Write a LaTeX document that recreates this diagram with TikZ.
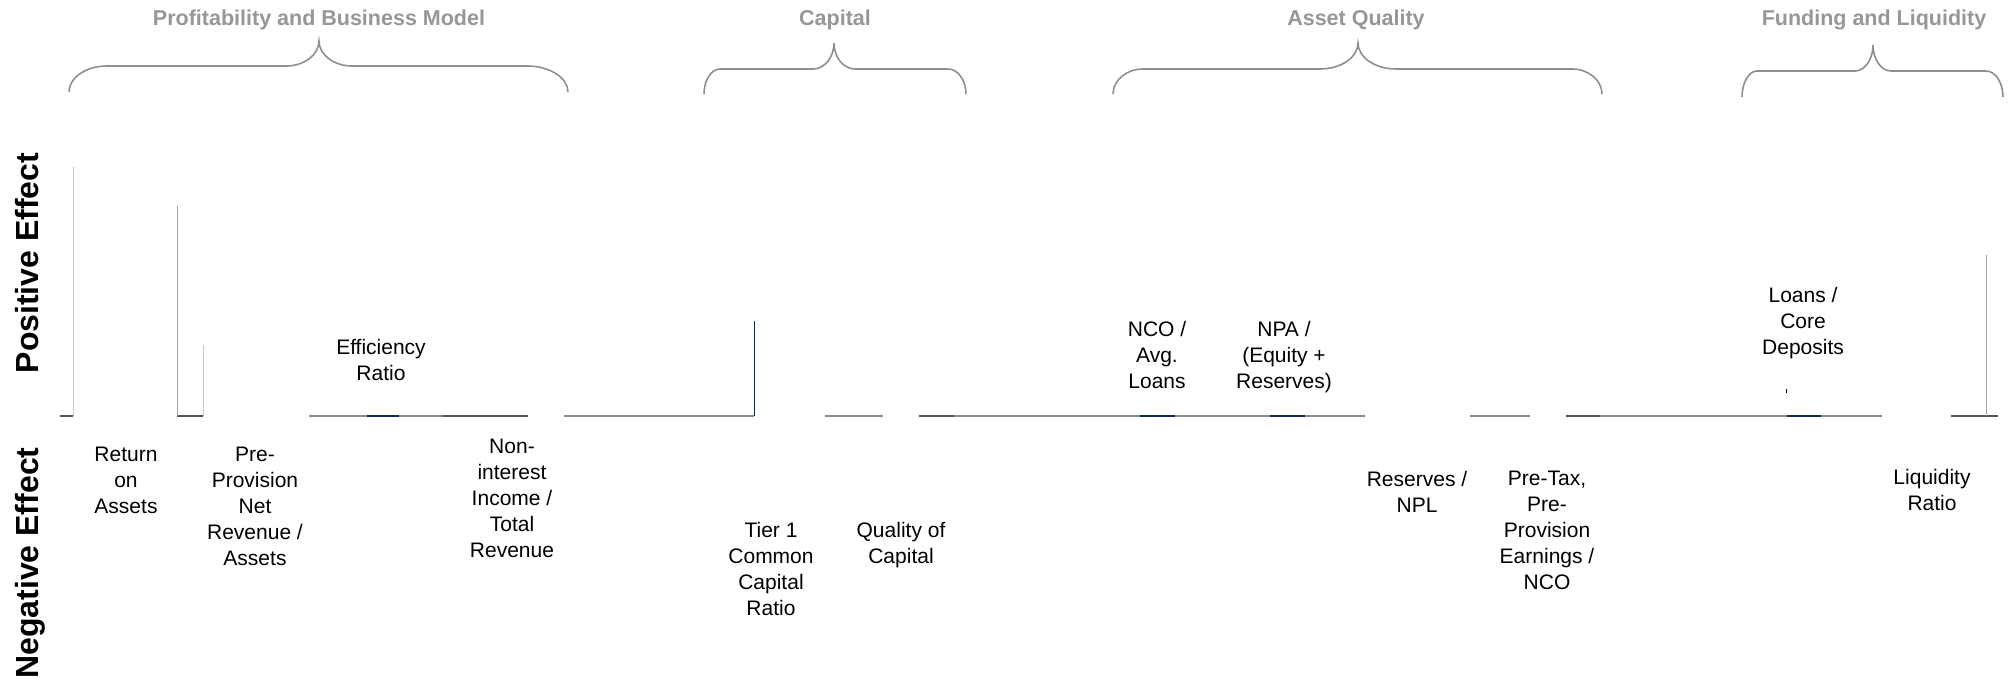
\documentclass[tikz,border=0pt]{standalone}
\usepackage{fontspec}
\setmainfont{Liberation Sans}
\definecolor{bracegray}{HTML}{8F8F8F}
\definecolor{titlegray}{HTML}{979797}
\definecolor{axisgray}{HTML}{8A8A8A}
\definecolor{axisdark}{HTML}{555555}
\definecolor{barnavy}{HTML}{13284D}
\definecolor{lightblue}{HTML}{B4CDE6}
\definecolor{vgray}{HTML}{A6A6A6}
\newcommand\drawcatbrace[9]{%
  \draw[bracestyle] (#1,#9) .. controls (#1,{#8+0.45*(#9-#8)}) and ({#1+0.45*#4},#8) .. ({#1+#4},#8)
    -- ({#2-#5},#8) .. controls ({#2-0.45*#5},#8) and (#2,{#8-0.45*(#8-#7)}) .. (#2,#7)
    .. controls (#2,{#8-0.45*(#8-#7)}) and ({#2+0.45*#5},#8) .. ({#2+#5},#8)
    -- ({#3-#6},#8) .. controls ({#3-0.45*#6},#8) and (#3,{#8+0.45*(#9-#8)}) .. (#3,#9);}
\begin{document}
\begin{tikzpicture}[x=1bp,y=-1bp,
  bracestyle/.style={draw=bracegray,line width=1.6bp},
  cattitle/.style={text=titlegray,font=\fontsize{21.5bp}{26bp}\selectfont\bfseries,anchor=base,inner sep=0},
  sidelabel/.style={font=\fontsize{32bp}{38bp}\selectfont\bfseries,rotate=90,anchor=base,inner sep=0},
  lbl/.style={font=\fontsize{21bp}{26bp}\selectfont,align=center,anchor=north,inner sep=0},
  axisseg/.style={draw=axisgray,line width=1.8bp},
  axisdk/.style={draw=axisdark,line width=1.8bp},
  navyseg/.style={draw=barnavy,line width=1.8bp},
  vline/.style={line width=1bp}]
\useasboundingbox (0,0) rectangle (2010,682);

% category titles
\node[cattitle] (tprof) at (319,26) {Profitability and Business Model};
\node[cattitle] (tcap)  at (835,26) {Capital};
\node[cattitle] (tasset) at (1356,26) {Asset Quality};
\node[cattitle] (tfund) at (1874,26) {Funding and Liquidity};

% braces
\drawcatbrace{69}{319}{568}{38}{33}{41}{41}{66}{92}
\drawcatbrace{704}{834}{966}{16}{21}{18}{43}{69}{94}
\drawcatbrace{1113}{1358}{1602}{30}{38}{30}{43}{69}{94}
\drawcatbrace{1742}{1873}{2003}{15}{18}{17}{45}{71}{97}

% side labels
\node[sidelabel] (pos) at (38,263) {Positive Effect};
\node[sidelabel] (neg) at (38,563) {Negative Effect};

% baseline segments
\draw[axisdk] (60,416) -- (73,416);
\draw[axisdk] (177,416) -- (203,416);
\draw[axisseg] (309,416) -- (443,416);
\draw[navyseg] (367,416) -- (399,416);
\draw[axisdk] (443,416) -- (528,416);
\draw[axisseg] (564,416) -- (754,416);
\draw[axisseg] (825,416) -- (883,416);
\draw[axisdk] (919,416) -- (954,416);
\draw[axisseg] (954,416) -- (1365,416);
\draw[navyseg] (1140,416) -- (1175,416);
\draw[navyseg] (1270,416) -- (1305,416);
\draw[axisseg] (1470,416) -- (1530,416);
\draw[axisdk] (1566,416) -- (1600,416);
\draw[axisseg] (1600,416) -- (1882,416);
\draw[navyseg] (1787,416) -- (1821,416);
\draw[axisdk] (1951,416) -- (1998,416);

% vertical bars
\draw[vline,lightblue] (73,167) -- (73,416);
\draw[vline,vgray] (177,206) -- (177,416);
\draw[vline,lightblue] (203,345) -- (203,416);
\draw[vline,barnavy] (754,321) -- (754,416);
\draw[vline,vgray] (1986,255) -- (1986,416);
\draw[vline,black] (1786,389) -- (1786,393);

% metric labels
\node[lbl] (roa) at (126,447) {Return\\on\\Assets};
\node[lbl] (ppnr) at (255,447) {Pre-\\Provision\\Net\\Revenue /\\Assets};
\node[lbl] (eff) at (381,339) {Efficiency\\Ratio};
\node[lbl] (nii) at (512,439) {Non-\\interest\\Income /\\Total\\Revenue};
\node[lbl] (tier) at (771,522) {Tier 1\\Common\\Capital\\Ratio};
\node[lbl] (qoc) at (901,522) {Quality of\\Capital};
\node[lbl] (nco) at (1157,321) {NCO /\\Avg.\\Loans};
\node[lbl] (npa) at (1284,321) {NPA /\\(Equity +\\Reserves)};
\node[lbl] (res) at (1417,471) {Reserves /\\NPL};
\node[lbl] (ptpp) at (1547,471) {Pre-Tax,\\Pre-\\Provision\\Earnings /\\NCO};
\node[lbl] (loans) at (1803,287) {Loans /\\Core\\Deposits};
\node[lbl] (liq) at (1932,469) {Liquidity\\Ratio};
\end{tikzpicture}
\end{document}
